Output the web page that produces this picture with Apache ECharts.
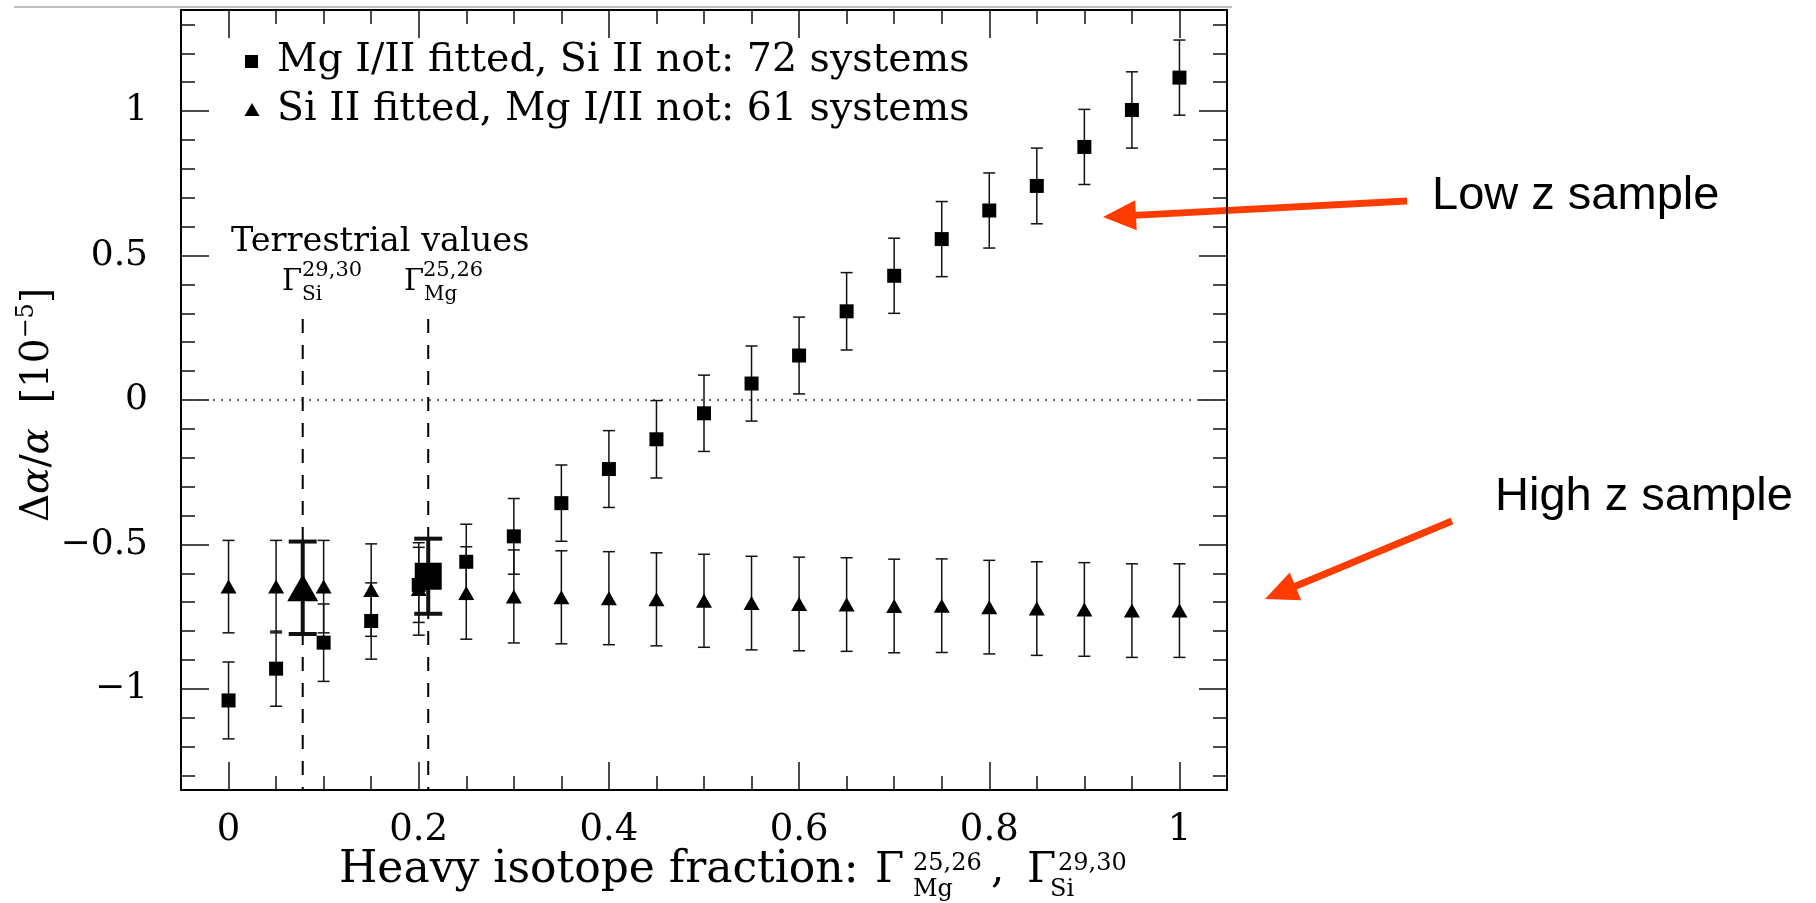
<!DOCTYPE html>
<html>
<head>
<meta charset="utf-8">
<script src="https://cdn.jsdelivr.net/npm/echarts@6/dist/echarts.min.js"></script>
<style>
html, body { margin: 0; padding: 0; background: #fff; }
#main { width: 1816px; height: 903px; }
</style>
</head>
<body>
<div id="main"></div>
<script>
// heavy isotope fraction (x)
var xFrac = [0, 0.05, 0.1, 0.15, 0.2, 0.25, 0.3, 0.35, 0.4, 0.45, 0.5,
             0.55, 0.6, 0.65, 0.7, 0.75, 0.8, 0.85, 0.9, 0.95, 1];
// Mg I/II fitted (squares)
var mgY   = [-1.04, -0.93, -0.84, -0.765, -0.64, -0.56, -0.472, -0.357, -0.239, -0.136, -0.046,
             0.057, 0.154, 0.307, 0.43, 0.557, 0.656, 0.741, 0.876, 1.004, 1.116];
var mgErr = [0.133, 0.13, 0.134, 0.132, 0.13, 0.13, 0.131, 0.132, 0.133, 0.134, 0.132,
             0.13, 0.133, 0.134, 0.13, 0.13, 0.13, 0.131, 0.13, 0.132, 0.13];
// Si II fitted (triangles)
var siY   = [-0.646, -0.646, -0.646, -0.658, -0.654, -0.668, -0.68, -0.683, -0.686, -0.69, -0.695,
             -0.703, -0.706, -0.708, -0.713, -0.712, -0.717, -0.722, -0.725, -0.729, -0.729];
var siErr = [0.16, 0.16, 0.16, 0.16, 0.16, 0.16, 0.161, 0.161, 0.161, 0.161, 0.161,
             0.162, 0.162, 0.162, 0.162, 0.162, 0.162, 0.162, 0.162, 0.162, 0.162];
// terrestrial values [x, y, err]
var terrSi = [0.078, -0.65, 0.16];
var terrMg = [0.21, -0.61, 0.13];
var dashTop = 0.28;

// ticks
var xMajor = [0, 0.2, 0.4, 0.6, 0.8, 1];
var xMinor = [0.05, 0.1, 0.15, 0.25, 0.3, 0.35, 0.45, 0.5, 0.55, 0.65, 0.7, 0.75, 0.85, 0.9, 0.95];
var yMajor = [-1, -0.5, 0, 0.5, 1];
var yMinor = [-1.3, -1.2, -1.1, -0.9, -0.8, -0.7, -0.6, -0.4, -0.3, -0.2, -0.1,
              0.1, 0.2, 0.3, 0.4, 0.6, 0.7, 0.8, 0.9, 1.1, 1.2, 1.3];

var serif = 'DejaVu Serif';

function errRender(capHalf, width) {
    return function (params, api) {
        var x = api.value(0), y = api.value(1), e = api.value(2);
        var top = api.coord([x, y + e]);
        var bot = api.coord([x, y - e]);
        var st = { stroke: '#111', lineWidth: width };
        return {
            type: 'group',
            children: [
                { type: 'line', shape: { x1: top[0], y1: top[1], x2: bot[0], y2: bot[1] }, style: st },
                { type: 'line', shape: { x1: top[0] - capHalf, y1: top[1], x2: top[0] + capHalf, y2: top[1] }, style: st },
                { type: 'line', shape: { x1: bot[0] - capHalf, y1: bot[1], x2: bot[0] + capHalf, y2: bot[1] }, style: st }
            ]
        };
    };
}

function arrow(x1, y1, x2, y2) {
    var dx = x2 - x1, dy = y2 - y1;
    var len = Math.sqrt(dx * dx + dy * dy);
    var ux = dx / len, uy = dy / len;
    var hl = 33, hw = 15;
    var bx = x2 - ux * hl, by = y2 - uy * hl;
    return [
        { type: 'line', shape: { x1: x1, y1: y1, x2: bx + ux * 2, y2: by + uy * 2 },
          style: { stroke: '#ff3c00', lineWidth: 7 } },
        { type: 'polygon', shape: { points: [[x2, y2], [bx - uy * hw, by + ux * hw], [bx + uy * hw, by - ux * hw]] },
          style: { fill: '#ff3c00' } }
    ];
}

function txt(x, y, s, size) {
    return { type: 'text', x: x, y: y, style: { text: s, font: size + 'px "DejaVu Serif"', fill: '#000',
             textAlign: 'left', textVerticalAlign: 'middle' } };
}

var mgPts = xFrac.map(function (x, i) { return [x, mgY[i]]; });
var siPts = xFrac.map(function (x, i) { return [x, siY[i]]; });
var mgErrData = xFrac.map(function (x, i) { return [x, mgY[i], mgErr[i]]; });
var siErrData = xFrac.map(function (x, i) { return [x, siY[i], siErr[i]]; });

function xAx(pos, vals, len, labels) {
    return {
        type: 'value', position: pos, min: -0.05, max: 1.05,
        axisLine: { show: true, onZero: false, lineStyle: { color: '#000', width: 2 } },
        axisTick: { show: true, inside: true, length: len, customValues: vals, lineStyle: { color: '#111', width: 1.5 } },
        axisLabel: labels ? { show: true, customValues: xMajor, margin: 22, color: '#000',
                              fontFamily: serif, fontSize: 37 } : { show: false },
        splitLine: { show: false }
    };
}
function yAx(pos, vals, len, labels) {
    return {
        type: 'value', position: pos, min: -1.35, max: 1.35,
        axisLine: { show: true, onZero: false, lineStyle: { color: '#000', width: 2 } },
        axisTick: { show: true, inside: true, length: len, customValues: vals, lineStyle: { color: '#111', width: 1.5 } },
        axisLabel: labels ? { show: true, customValues: yMajor, margin: 33, color: '#000',
                              fontFamily: serif, fontSize: 36,
                              formatter: function (v) { return v < 0 ? '\u2212' + Math.abs(v) : String(v); } }
                          : { show: false },
        splitLine: { show: false }
    };
}

var chart = echarts.init(document.getElementById('main'));
var option = {
    animation: false,
    backgroundColor: '#fff',
    grid: { left: 181, right: 589, top: 10, bottom: 113 },
    xAxis: [xAx('bottom', xMajor, 28, true), xAx('bottom', xMinor, 14, false),
            xAx('top', xMajor, 28, false), xAx('top', xMinor, 14, false)],
    yAxis: [yAx('left', yMajor, 28, true), yAx('left', yMinor, 14, false),
            yAx('right', yMajor, 28, false), yAx('right', yMinor, 14, false)],
    series: [
        { type: 'line', data: [[-0.05, 0], [1.05, 0]], symbol: 'none', z: 1,
          lineStyle: { color: '#333', width: 1.5, type: [2, 6] } },
        { type: 'line', data: [[terrSi[0], dashTop], [terrSi[0], -1.35]], symbol: 'none', z: 1,
          lineStyle: { color: '#000', width: 2, type: [14, 12] } },
        { type: 'line', data: [[terrMg[0], dashTop], [terrMg[0], -1.35]], symbol: 'none', z: 1,
          lineStyle: { color: '#000', width: 2, type: [14, 12] } },
        { type: 'custom', name: 'mgErr', data: mgErrData, renderItem: errRender(6, 1.5), z: 2,
          encode: { x: 0, y: 1 } },
        { type: 'custom', name: 'siErr', data: siErrData, renderItem: errRender(6, 1.5), z: 2,
          encode: { x: 0, y: 1 } },
        { type: 'custom', name: 'terrErr', data: [terrSi, terrMg], renderItem: errRender(14, 4), z: 2,
          encode: { x: 0, y: 1 } },
        { type: 'scatter', name: 'Mg I/II fitted, Si II not: 72 systems', data: mgPts,
          symbol: 'rect', symbolSize: 14, itemStyle: { color: '#000', opacity: 1 }, z: 3 },
        { type: 'scatter', name: 'Si II fitted, Mg I/II not: 61 systems', data: siPts,
          symbol: 'triangle', symbolSize: [16, 14], itemStyle: { color: '#000', opacity: 1 }, z: 3 },
        { type: 'scatter', data: [[terrSi[0], terrSi[1]]], symbol: 'triangle', symbolSize: [31, 27],
          itemStyle: { color: '#000', opacity: 1 }, z: 4 },
        { type: 'scatter', data: [[terrMg[0], terrMg[1]]], symbol: 'rect', symbolSize: 27,
          itemStyle: { color: '#000', opacity: 1 }, z: 4 }
    ],
    graphic: [
        { type: 'line', shape: { x1: 14, y1: 7, x2: 1232, y2: 7 }, style: { stroke: '#aaa', lineWidth: 1.5 } },
        // legend
        { type: 'rect', shape: { x: 245, y: 55, width: 13, height: 13 }, style: { fill: '#000' } },
        { type: 'polygon', shape: { points: [[252, 103], [259.5, 116], [244.5, 116]] }, style: { fill: '#000' } },
        txt(277, 61, 'Mg I/II fitted, Si II not: 72 systems', 39.5),
        txt(277, 110, 'Si II fitted, Mg I/II not: 61 systems', 39.5),
        // terrestrial labels
        txt(231, 242, 'Terrestrial values', 33.5),
        txt(282, 282, 'Γ', 29),
        txt(302, 271, '29,30', 21),
        txt(302, 295, 'Si', 20),
        txt(404, 282, 'Γ', 29),
        txt(423, 271, '25,26', 21),
        txt(424, 295, 'Mg', 20),
        // x axis title
        txt(339, 871, 'Heavy isotope fraction:', 44),
        txt(875, 871, 'Γ', 42),
        txt(913, 864, '25,26', 24),
        txt(913, 890, 'Mg', 24),
        txt(991, 871, ',', 42),
        txt(1027, 871, 'Γ', 42),
        txt(1058, 864, '29,30', 24),
        txt(1050, 890, 'Si', 24),
        // y axis title
        { type: 'text', x: 38, y: 405, rotation: Math.PI / 2,
          style: { text: '{n|Δ}{it|α}{n|/}{it|α}{n|  [10}{sup|−5}{n|]}', fill: '#000',
                   textAlign: 'center', textVerticalAlign: 'middle',
                   rich: { n: { fontFamily: serif, fontSize: 39, lineHeight: 46 },
                           it: { fontFamily: serif, fontSize: 39, fontStyle: 'italic', lineHeight: 46 },
                           sup: { fontFamily: serif, fontSize: 24, verticalAlign: 'top', lineHeight: 30 } } } },
        // annotations
        { type: 'group', children: arrow(1407, 201, 1103, 217) },
        { type: 'group', children: arrow(1452, 521, 1265, 599) },
        { type: 'text', x: 1432, y: 196, style: { text: 'Low z sample', font: '47px "Liberation Sans"',
          fill: '#000', textVerticalAlign: 'middle' } },
        { type: 'text', x: 1495, y: 497, style: { text: 'High z sample', font: '47px "Liberation Sans"',
          fill: '#000', textVerticalAlign: 'middle' } }
    ]
};
chart.setOption(option);
</script>
</body>
</html>
